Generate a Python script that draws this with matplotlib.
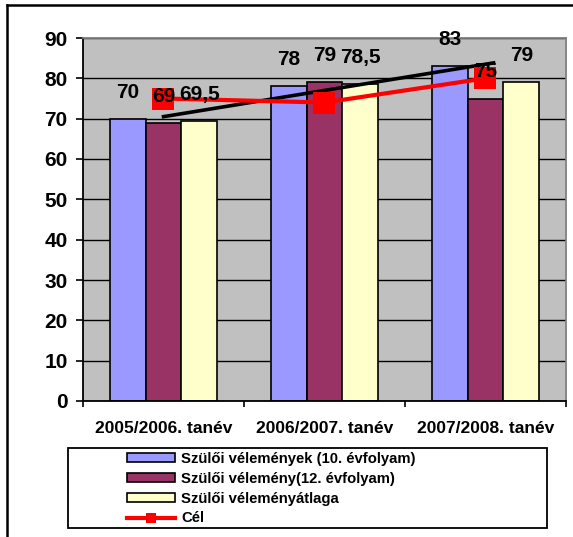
import matplotlib
matplotlib.use("Agg")
import matplotlib.pyplot as plt
import numpy as np
from matplotlib.lines import Line2D
from matplotlib.patches import Patch

plt.rcParams['font.family'] = ['Liberation Sans', 'DejaVu Sans']
plt.rcParams['font.weight'] = 'bold'

# adatok
kategoriak = ["2005/2006. tanév", "2006/2007. tanév", "2007/2008. tanév"]
sorozatok = ["Szülői vélemények (10. évfolyam)", "Szülői vélemény(12. évfolyam)",
             "Szülői véleményátlaga"]
ertek_10 = [70, 78, 83]
ertek_12 = [69, 79, 75]
atlag = [69.5, 78.5, 79]
cel = [75, 74, 80]

szinek = ["#9999FF", "#993366", "#FFFFCC"]

fig = plt.figure(figsize=(5.73, 5.37), dpi=100)
ax = fig.add_axes([83/573, 1 - 401/537, (566 - 83)/573, (401 - 38)/537])
ax.set_facecolor("#C0C0C0")

x = np.arange(len(kategoriak))
w = 0.222
ax.set_axisbelow(True)
ax.yaxis.grid(True, color="black", linewidth=1)

for i, (vals, c) in enumerate(zip([ertek_10, ertek_12, atlag], szinek)):
    ax.bar(x + (i - 1) * w, vals, w, color=c, edgecolor="black", linewidth=1.2, zorder=2)

# trendvonal a 10. évfolyamra
m, b = np.polyfit(x, ertek_10, 1)
xt = np.array([0, 2.05])
ax.plot(xt, m * xt + b, color="black", linewidth=2.6, zorder=3)

# cél vonal
ax.plot(x, cel, color="red", linewidth=3, marker="s", markersize=16.5,
        markeredgewidth=0, zorder=4)

# címkék
for i, vals in enumerate([ertek_10, ertek_12, atlag]):
    for xi, v in zip(x, vals):
        txt = (str(v).replace(".", ",") if v % 1 else str(int(v)))
        ax.annotate(txt, (xi + (i - 1) * w, v), xytext=(0, 19.2),
                    textcoords="offset points", ha="center", va="center",
                    fontsize=15, fontweight="bold", zorder=5)

ax.set_ylim(0, 90)
ax.set_yticks(range(0, 91, 10))
ax.set_xlim(-0.5, 2.5)
ax.set_xticks([-0.5, 0.5, 1.5, 2.5])
ax.set_xticklabels([])
ax.set_xticks(x, minor=True)
ax.set_xticklabels(kategoriak, minor=True, fontsize=12.5, fontweight="bold")
ax.tick_params(axis="x", which="major", length=4, width=1.2, direction="out")
ax.tick_params(axis="x", which="minor", length=0, pad=14.5)
ax.tick_params(axis="y", length=5, width=1.2, pad=6, labelsize=15)

for s in ["left", "bottom"]:
    ax.spines[s].set_color("black")
    ax.spines[s].set_linewidth(1.3)
for s in ["top", "right"]:
    ax.spines[s].set_color("#808080")
    ax.spines[s].set_linewidth(1.3)

# jelmagyarázat
kezelok = [Patch(facecolor=c, edgecolor="black", linewidth=1.2) for c in szinek]
kezelok.append(Line2D([], [], color="red", linewidth=3, marker="s", markersize=7,
                      markeredgewidth=0))
fig.legend(kezelok, sorozatok + ["Cél"], loc="upper left",
           bbox_to_anchor=(127/573, 1 - 452/537), frameon=False,
           handlelength=3.25, handleheight=0.55,
           handletextpad=0.4, labelspacing=0.39, borderpad=0, borderaxespad=0,
           prop={"weight": "bold", "size": 10.7})
fig.add_artist(plt.Rectangle((68/573, 1 - 528/537), (547 - 68)/573, 80/537,
                             fill=False, edgecolor="black", linewidth=1.3,
                             transform=fig.transFigure))

# külső keret
fig.add_artist(Line2D([7/573, 7/573], [-0.1, 1 - 5/537], color="black",
                      linewidth=1.8, transform=fig.transFigure))
fig.add_artist(Line2D([7/573, 1.1], [1 - 5/537, 1 - 5/537], color="black",
                      linewidth=1.8, transform=fig.transFigure))

fig.savefig("out.png", dpi=100)
